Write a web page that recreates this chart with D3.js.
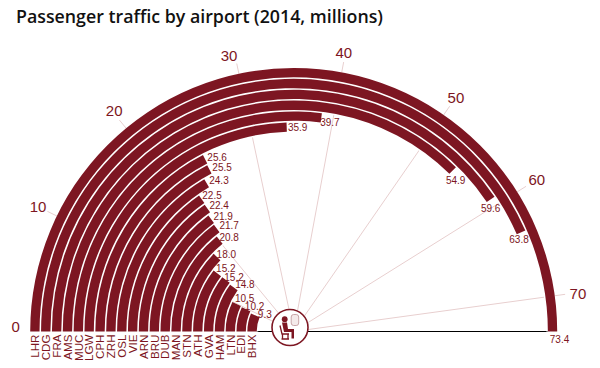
<!DOCTYPE html>
<html><head><meta charset="utf-8">
<script src="https://cdn.jsdelivr.net/npm/d3@7"></script>
<style>html,body{margin:0;padding:0;background:#fff}svg{display:block}</style>
</head><body><svg id="c" width="600" height="368"></svg>
<script>
const titleText = "Passenger traffic by airport (2014, millions)";
const airports = ["LHR","CDG","FRA","AMS","MUC","LGW","CPH","ZRH","OSL","VIE","ARN","BRU","DUB","MAN","STN","ATH","GVA","HAM","LTN","EDI","BHX"];
const passengers = [73.4,63.8,59.6,54.9,39.7,35.9,25.6,25.5,24.3,22.5,22.4,21.9,21.7,20.8,18.0,15.2,15.2,14.8,10.5,10.2,9.3];
const tickValues = [0,10,20,30,40,50,60,70];

const dark = "#7d1622";
const cx = 293.7, cy = 331.5;
const rad = Math.PI / 180;
const svg = d3.select("#c");
const angle = d3.scaleLinear().domain([0, 73.4]).range([-Math.PI/2, Math.PI/2]);
const radius = d3.scaleBand().domain(airports).range([263.5, 37]).paddingInner(0.14);
// the reference's spokes and their labels do not sit exactly on the bar scale
const spokeDeg = d3.scaleOrdinal().domain(tickValues).range([1,26,50.5,78,100.5,124.7,148,172.2]);
const tickLabelDeg = d3.scaleOrdinal().domain(tickValues).range([1,26,50.9,76.8,100.2,124.7,147.9,172.4]);
const tickLabelR = d3.scaleOrdinal().domain(tickValues).range([278,284.4,284.7,283,283,285,287,286.8]);
// value-label placement relative to each bar's end
const nudgeX = d3.scaleOrdinal().domain(airports).range([7,-2,0,3,8.6,11,12,12.7,12.3,10.3,11.8,12,12.4,9.5,9.3,8.5,8,11,8,8.5,9.5]);
const nudgeY = d3.scaleOrdinal().domain(airports).range([7.5,7,9,10,5,0,-1.5,-1.5,-2.3,-4,-3.5,-3,-3.4,-2.8,-3,-4.5,-2,-3,-5.7,-2.5,-0.5]);

svg.append("text").attr("x",16).attr("y",23)
  .attr("font-family","'Open Sans'").attr("font-weight",600).attr("font-size",18)
  .attr("fill","#111").attr("textLength",367).attr("lengthAdjust","spacingAndGlyphs").text(titleText);

const g = svg.append("g").attr("transform",`translate(${cx},${cy})`);
const pt = (deg,r) => [-Math.cos(deg*rad)*r, -Math.sin(deg*rad)*r];

g.selectAll("line.spoke").data(tickValues.slice(1)).join("line").attr("class","spoke")
  .attr("x1",0).attr("y1",0)
  .attr("x2",d=>pt(spokeDeg(d),274)[0]).attr("y2",d=>pt(spokeDeg(d),274)[1])
  .attr("stroke","#e8cfcf").attr("stroke-width",1);

g.append("line").attr("x1",-radius("BHX")).attr("x2",radius("LHR")).attr("y1",0).attr("y2",0)
  .attr("stroke","#000").attr("stroke-width",1);

const rows = airports.map((k,i)=>({k, v:passengers[i], t:passengers[i].toFixed(1)}));
const arc = d3.arc().innerRadius(d=>radius(d.k)).outerRadius(d=>radius(d.k)+radius.bandwidth())
  .startAngle(angle(0)).endAngle(d=>angle(d.v));

// white halo so spokes do not show in the gaps between bars
g.selectAll("path.halo").data(rows).join("path").attr("class","halo")
  .attr("d",d3.arc().innerRadius(d=>radius(d.k)-radius.step()+radius.bandwidth()).outerRadius(d=>radius(d.k)+radius.bandwidth())
  .startAngle(angle(0)).endAngle(d=>angle(d.v))).attr("fill","#fff");
g.selectAll("path.bar").data(rows).join("path").attr("class","bar").attr("d",arc).attr("fill",dark);

const mid = d => radius(d.k)+radius.bandwidth()/2;
g.selectAll("text.val").data(rows).join("text").attr("class","val")
  .attr("text-anchor","middle").attr("dominant-baseline","central")
  .attr("font-family","'Liberation Sans'").attr("font-size",10).attr("fill",dark)
  .attr("x",d=>pt(angle(d.v)/rad+90,mid(d))[0]+nudgeX(d.k))
  .attr("y",d=>pt(angle(d.v)/rad+90,mid(d))[1]+nudgeY(d.k))
  .text(d=>d.t);

g.selectAll("text.cat").data(rows).join("text").attr("class","cat")
  .attr("transform",d=>`translate(${-mid(d)+4.2},3) rotate(-90)`)
  .attr("text-anchor","end")
  .attr("font-family","'Liberation Sans'").attr("font-size",11.6).attr("fill",dark).text(d=>d.k);

g.selectAll("text.tick").data(tickValues).join("text").attr("class","tick")
  .attr("text-anchor","middle").attr("dominant-baseline","central")
  .attr("font-family","'Liberation Sans'").attr("font-size",15).attr("fill",dark)
  .attr("x",d=>pt(tickLabelDeg(d),tickLabelR(d))[0]).attr("y",d=>pt(tickLabelDeg(d),tickLabelR(d))[1])
  .text(d=>d);

// icon: seated passenger with a screen
const ic = svg.append("g").attr("transform","translate(290,327.5)");
ic.append("circle").attr("r",18).attr("fill","#fff").attr("stroke",dark).attr("stroke-width",1.6);
ic.append("circle").attr("cx",-5.3).attr("cy",-8.3).attr("r",2.9).attr("fill",dark);
ic.append("rect").attr("x",1.2).attr("y",-13).attr("width",7.5).attr("height",11).attr("rx",2.5)
  .attr("fill","#f4eaea").attr("stroke","#c9a5a8").attr("stroke-width",1);
ic.append("path").attr("fill",dark)
  .attr("d","M-8,-5 L-3,-5 L-2,1.5 L4,1.5 L4,11 L1.5,11 L1.5,4.5 L-6,4.5 Z");
ic.append("path").attr("fill","none").attr("stroke",dark).attr("stroke-width",1.3)
  .attr("d","M-10,-2 L-8,6.5 L-1,6.5 M-7.5,6.5 L-7.5,11.5 M-2,6.5 L-2,11.5 M-8.5,11.5 L-1,11.5");
</script></body></html>
